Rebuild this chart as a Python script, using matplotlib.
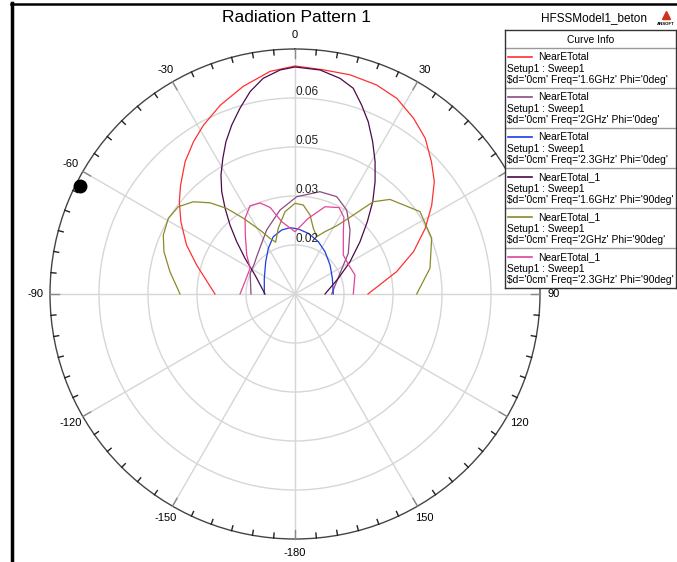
import numpy as np
import matplotlib
matplotlib.use('Agg')
import matplotlib.pyplot as plt
from matplotlib.lines import Line2D

plt.rcParams['font.family'] = ['Liberation Sans', 'DejaVu Sans']

# ---------------- data ----------------
R_MIN = 0.006667
R_MAX = 0.073333
ring_values = [0.02, 0.033333, 0.046667, 0.06]
ring_labels = ['0.02', '0.03', '0.05', '0.06']
angle_ticks = [0, 30, 90, 120, 150, 180, -150, -120, -90, -60, -30]
angle_labels = ['0', '30', '90', '120', '150', '-180', '-150', '-120', '-90', '-60', '-30']

# 1.6GHz Phi=0deg (red)
th_red = [-90, -73.6, -65.7, -57.7, -51.4, -46.4, -39.7, -33.7, -28.5, -21.6, -14, -6.4, 0,
          7.2, 14.1, 21.3, 27.5, 34, 39.9, 45.9, 51.1, 57, 63.2, 70.3, 77.6, 90]
v_red = [0.02844, 0.03456, 0.03905, 0.04340, 0.04694, 0.04966, 0.05347, 0.05646, 0.05891,
         0.06191, 0.06490, 0.06762, 0.06871, 0.06816, 0.06816, 0.06773, 0.06667, 0.06435,
         0.06191, 0.05837, 0.05538, 0.05102, 0.04640, 0.04095, 0.03497, 0.02653]

# 2GHz Phi=0deg (mauve)
th_mauve = [-90, -65, -54, -45.8, -23.9, -10.1, 1, 13.7, 23.2, 31.6, 40.7, 52.6, 65.3, 90]
v_mauve = [0.01864, 0.02014, 0.02041, 0.02122, 0.02572, 0.02988, 0.03314, 0.03532, 0.03548,
           0.03350, 0.02963, 0.02493, 0.02014, 0.01665]

# 2.3GHz Phi=0deg (blue)
th_blue = [-90, -62.9, -42.2, -30.3, -20.7, -11.7, -4.3, 2.9, 12.4, 24, 35.3, 50.4, 67.2, 90]
v_blue = [0.01502, 0.01605, 0.01853, 0.02106, 0.02335, 0.02446, 0.02476, 0.02438, 0.02356,
          0.02226, 0.02079, 0.01905, 0.01769, 0.01709]

# 1.6GHz Phi=90deg (dark purple)
th_dpur = [-90, -64.6, -54.5, -48.1, -43.3, -39.2, -35.6, -31.9, -28, -24.4, -20.5, -16.5, -12.5,
           -8.4, -3.8, 0, 6.4, 11.8, 15.8, 19.4, 23, 27, 31.2, 35.5, 40.1, 45, 51.2, 59.6, 70.1, 90]
v_dpur = [0.01483, 0.01872, 0.02337, 0.02797, 0.03246, 0.03676, 0.04093, 0.04479, 0.04849,
          0.05216, 0.05578, 0.05938, 0.06308, 0.06599, 0.06776, 0.06844, 0.06800, 0.06661,
          0.06485, 0.06120, 0.05763, 0.05320, 0.04874, 0.04419, 0.03951, 0.03450, 0.02936,
          0.02403, 0.01921, 0.01483]

# 2GHz Phi=90deg (olive)
th_olive = [-90, -79.9, -72.1, -65.9, -59.1, -53.2, -47.8, -43, -38.6, -34.3, -28.7, -24.2, -20.5,
            -14.3, -6.9, 0, 5.3, 10.8, 15.6, 20.7, 25.7, 31.5, 36, 40.3, 45.1, 56.6, 67.8, 79.2, 90]
v_olive = [0.03796, 0.04123, 0.04414, 0.04593, 0.04683, 0.04631, 0.04403, 0.04060, 0.03649,
           0.03162, 0.02650, 0.02327, 0.02172, 0.02512, 0.02922, 0.03135, 0.03099, 0.02854,
           0.02522, 0.02335, 0.02550, 0.02844, 0.03279, 0.03959, 0.04313, 0.04740, 0.04683,
           0.04406, 0.03978]

# 2.3GHz Phi=90deg (pink)
th_pink = [-90, -76, -60, -51, -40, -33.4, -27, -21, -16, -10.4, 0, 10, 19, 27, 32.5, 38,
           45.6, 51, 60, 72.4, 90]
v_pink = [0.02163, 0.02068, 0.02076, 0.02357, 0.02770, 0.03135, 0.03361, 0.03320, 0.03116,
          0.02667, 0.02362, 0.02759, 0.03178, 0.03306, 0.03143, 0.02803, 0.02506, 0.02357,
          0.02327, 0.02378, 0.02253]

series_theta = [th_red, th_mauve, th_blue, th_dpur, th_olive, th_pink]
series_vals = [v_red, v_mauve, v_blue, v_dpur, v_olive, v_pink]
series_colors = ['#ff3030', '#8c4a80', '#1e3ce0', '#4b0a4b', '#8a8a2a', '#e0449a']
legend_names = ['NearETotal', 'NearETotal', 'NearETotal', 'NearETotal_1', 'NearETotal_1', 'NearETotal_1']
legend_setup = ['Setup1 : Sweep1'] * 6
legend_detail = ["\\$d='0cm' Freq='1.6GHz' Phi='0deg'",
                 "\\$d='0cm' Freq='2GHz' Phi='0deg'",
                 "\\$d='0cm' Freq='2.3GHz' Phi='0deg'",
                 "\\$d='0cm' Freq='1.6GHz' Phi='90deg'",
                 "\\$d='0cm' Freq='2GHz' Phi='90deg'",
                 "\\$d='0cm' Freq='2.3GHz' Phi='90deg'"]

marker_angle = -63.3
marker_value = 0.0721

# ---------------- figure ----------------
W, H = 677, 562
fig = plt.figure(figsize=(W / 100, H / 100), dpi=100)
fig.patch.set_facecolor('white')

cx, cy, Rpx = 295, 294, 245
ax = fig.add_axes([(cx - Rpx) / W, (H - cy - Rpx) / H, 2 * Rpx / W, 2 * Rpx / H], projection='polar')
ax.set_theta_zero_location('N')
ax.set_theta_direction(-1)
ax.set_ylim(R_MIN, R_MAX)
ax.set_yticks(ring_values)
ax.set_yticklabels([])
ax.set_xticks(np.deg2rad(np.arange(0, 360, 30)))
ax.set_xticklabels([])
ax.tick_params(axis='both', length=0)
ax.grid(True, color='#d6d6d6', lw=1.0)
ax.spines['polar'].set_color('#444444')
ax.spines['polar'].set_linewidth(1.0)

# tick marks on the outer circle (every 5 deg, longer every 30 deg)
px = (R_MAX - R_MIN) / Rpx
for a in range(0, 360, 5):
    major = (a % 30 == 0)
    ln = (9 if major else 5) * px
    ax.plot([np.deg2rad(a)] * 2, [R_MAX, R_MAX - ln], color='#888888' if major else '#222222',
            lw=1.0, clip_on=False, zorder=3)

for th, v, c in zip(series_theta, series_vals, series_colors):
    ax.plot(np.deg2rad(th), v, color=c, lw=0.9)

ax.plot(np.deg2rad(marker_angle), marker_value, 'o', color='black', ms=9, clip_on=False, zorder=5)

r_lab = R_MIN + 259 * px
for a, lbl in zip(angle_ticks, angle_labels):
    ax.text(np.deg2rad(a), r_lab, lbl, ha='center', va='center', fontsize=8, clip_on=False)

for v, lbl in zip(ring_values, ring_labels):
    ax.text(0, v, lbl, ha='left', va='bottom', fontsize=8.5, color='#222222')

# ---------------- legend box ----------------
lx0, ly0, lw_, lh_ = 505, 30, 171, 258
lax = fig.add_axes([lx0 / W, (H - ly0 - lh_) / H, lw_ / W, lh_ / H], zorder=10)
lax.set_xlim(0, lw_)
lax.set_ylim(lh_, 0)
lax.set_xticks([])
lax.set_yticks([])
lax.patch.set_facecolor('white')
for s in lax.spines.values():
    s.set_color('#333333')
    s.set_linewidth(1.0)
lax.text(lw_ / 2, 10, 'Curve Info', ha='center', va='center', fontsize=7.4)
hdr = 18.3
lax.axhline(hdr, color='#999999', lw=1.0)
for i in range(6):
    t = hdr + 40 * i
    if i > 0:
        lax.axhline(t, color='#999999', lw=1.0)
    lax.plot([3, 27], [t + 9, t + 9], color=series_colors[i], lw=1.2)
    lax.text(33, t + 9, legend_names[i], ha='left', va='center', fontsize=7.4)
    lax.text(2, t + 20.5, legend_setup[i], ha='left', va='center', fontsize=7.4)
    lax.text(2, t + 32, legend_detail[i], ha='left', va='center', fontsize=7.4)

# ---------------- titles and frame ----------------
fig.text(297 / W, 1 - 18 / H, 'Radiation Pattern 1', ha='center', va='center', fontsize=12.5)
fig.text(594 / W, 1 - 18 / H, 'HFSSModel1_beton', ha='center', va='center', fontsize=8.5)
fig.text(666 / W, 1 - 24 / H, 'ANSOFT', ha='center', va='center', fontsize=3.2, fontweight='bold')
fig.add_artist(Line2D([666 / W], [1 - 15 / H], marker='^', color='#d03020', ms=6,
                      transform=fig.transFigure))
fig.add_artist(Line2D([12 / W, 12 / W], [0, 1 - 3 / H], color='black', lw=2.5, transform=fig.transFigure))
fig.add_artist(Line2D([11 / W, 1], [1 - 4 / H, 1 - 4 / H], color='black', lw=1.8, transform=fig.transFigure))

fig.savefig('out.png', dpi=100)
